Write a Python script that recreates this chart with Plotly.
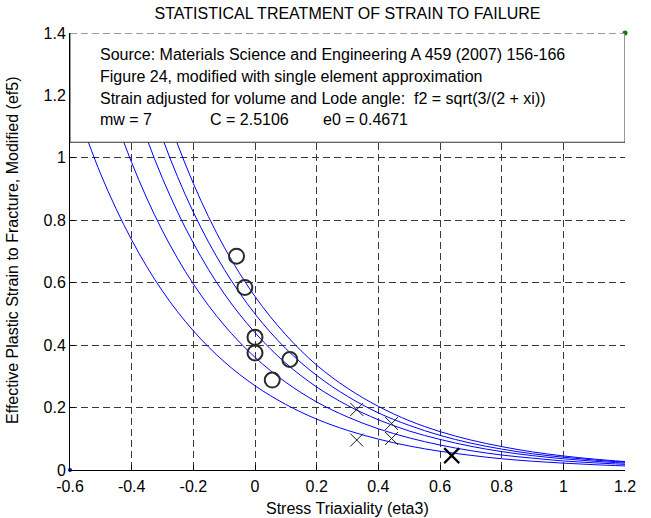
import plotly.graph_objects as go

# ---- data ----
eta_grid = [-0.6, -0.5, -0.4, -0.3, -0.2, -0.1, 0.0, 0.1, 0.2, 0.3, 0.4, 0.5,
            0.6, 0.7, 0.8, 0.9, 1.0, 1.1, 1.2]
curve_1 = [1.217, 0.947, 0.737, 0.573, 0.446, 0.347, 0.270, 0.210, 0.163, 0.127,
           0.099, 0.077, 0.060, 0.047, 0.036, 0.028, 0.022, 0.017, 0.013]
curve_2 = [1.628, 1.266, 0.985, 0.766, 0.596, 0.464, 0.361, 0.281, 0.218, 0.170,
           0.132, 0.103, 0.080, 0.062, 0.048, 0.038, 0.029, 0.023, 0.018]
curve_3 = [1.984, 1.544, 1.201, 0.934, 0.727, 0.565, 0.440, 0.342, 0.266, 0.207,
           0.161, 0.125, 0.098, 0.076, 0.059, 0.046, 0.036, 0.028, 0.022]
curve_4 = [2.255, 1.754, 1.365, 1.062, 0.826, 0.643, 0.500, 0.389, 0.303, 0.236,
           0.183, 0.143, 0.111, 0.086, 0.067, 0.052, 0.041, 0.032, 0.025]
curve_5 = [2.507, 1.950, 1.517, 1.180, 0.918, 0.714, 0.556, 0.433, 0.336, 0.262,
           0.204, 0.158, 0.123, 0.096, 0.075, 0.058, 0.045, 0.035, 0.027]
curves = [curve_1, curve_2, curve_3, curve_4, curve_5]

circle_x = [-0.060, -0.033, 0.0, 0.0, 0.113, 0.056]
circle_y = [0.685, 0.585, 0.425, 0.375, 0.354, 0.288]

cross_x = [0.33, 0.33, 0.443, 0.443]
cross_y = [0.194, 0.096, 0.149, 0.101]
big_cross_x = [0.638]
big_cross_y = [0.046]

corner_green_x = [1.2]
corner_green_y = [1.4]
corner_blue_x = [-0.6]
corner_blue_y = [0.0]

x_ticks = [-0.6, -0.4, -0.2, 0, 0.2, 0.4, 0.6, 0.8, 1, 1.2]
x_tick_text = ["-0.6", "-0.4", "-0.2", "0", "0.2", "0.4", "0.6", "0.8", "1", "1.2"]
y_ticks = [0, 0.2, 0.4, 0.6, 0.8, 1, 1.2, 1.4]
y_tick_text = ["0", "0.2", "0.4", "0.6", "0.8", "1", "1.2", "1.4"]

box_bottom = 1.05
box_lines = [
    "Source: Materials Science and Engineering A 459 (2007) 156-166",
    "Figure 24, modified with single element approximation",
    "Strain adjusted for volume and Lode angle:  f2 = sqrt(3/(2 + xi))",
]
param_texts = ["mw = 7", "C = 2.5106", "e0 = 0.4671"]

title_text = "STATISTICAL TREATMENT OF STRAIN TO FAILURE"
x_title = "Stress Triaxiality (eta3)"
y_title = "Effective Plastic Strain to Fracture, Modified (ef5)"

FONT = "Liberation Sans, Arial, Helvetica, sans-serif"
FS = 16
GRID = "#3a3a3a"

fig = go.Figure()
for c in curves:
    fig.add_trace(go.Scatter(x=eta_grid, y=c, mode="lines", line_shape="spline",
                             line=dict(color="#0000ff", width=1), showlegend=False,
                             hoverinfo="skip"))

fig.add_trace(go.Scatter(x=circle_x, y=circle_y, mode="markers", showlegend=False,
                         marker=dict(symbol="circle-open", size=15, color="#2a2a2a",
                                     line=dict(width=2, color="#2a2a2a"))))
fig.add_trace(go.Scatter(x=cross_x, y=cross_y, mode="markers", showlegend=False,
                         marker=dict(symbol="x-thin-open", size=13, color="#1a1a1a",
                                     line=dict(width=1, color="#1a1a1a"))))
fig.add_trace(go.Scatter(x=big_cross_x, y=big_cross_y, mode="markers", showlegend=False,
                         marker=dict(symbol="x-thin-open", size=15, color="#000000",
                                     line=dict(width=2.2, color="#000000"))))
fig.add_trace(go.Scatter(x=corner_blue_x, y=corner_blue_y, mode="markers", showlegend=False,
                         cliponaxis=False,
                         marker=dict(symbol="circle", size=4, color="#0000ff")))

x0, x1 = x_ticks[0], x_ticks[-1]
y_top = y_ticks[-1]

# white text box covering the top of the axes (no top border: dashed grid line there)
fig.add_shape(type="path", xref="x", yref="y", layer="above",
              path=f"M {x0},{y_top} L {x0},{box_bottom} L {x1},{box_bottom} L {x1},{y_top}",
              fillcolor="white", line=dict(color="#333333", width=1))
fig.add_shape(type="line", xref="x", yref="y", layer="above",
              x0=x0, x1=x1, y0=y_top, y1=y_top,
              line=dict(color=GRID, width=1, dash="7px,4px"))

fig.add_trace(go.Scatter(x=corner_green_x, y=corner_green_y, mode="markers", showlegend=False,
                         cliponaxis=False,
                         marker=dict(symbol="circle", size=5, color="#008000")))

# text in the box
line_y = [0.951, 0.900, 0.851]
for t, yy in zip(box_lines, line_y):
    fig.add_annotation(text=t, xref="paper", yref="paper", x=0.0505, y=yy,
                       xanchor="left", yanchor="middle", showarrow=False,
                       font=dict(family=FONT, size=FS, color="black"))
for t, xx in zip(param_texts, [0.0505, 0.2486, 0.452]):
    fig.add_annotation(text=t, xref="paper", yref="paper", x=xx, y=0.803,
                       xanchor="left", yanchor="middle", showarrow=False,
                       font=dict(family=FONT, size=FS, color="black"))

# axis titles
fig.add_annotation(text=x_title, xref="paper", yref="paper", x=0.5, y=-0.087,
                   xanchor="center", yanchor="middle", showarrow=False,
                   font=dict(family=FONT, size=FS, color="black"))
fig.add_annotation(text=y_title, xref="paper", yref="paper", x=-0.105, y=0.503,
                   xanchor="center", yanchor="middle", showarrow=False, textangle=-90,
                   font=dict(family=FONT, size=FS, color="black"))

fig.update_layout(
    width=651, height=518,
    margin=dict(l=70, r=26, t=33, b=48),
    paper_bgcolor="white", plot_bgcolor="white",
    font=dict(family=FONT, size=FS, color="black"),
    title=dict(text=title_text, x=0.5, xref="paper", y=1 - 13 / 518, yref="container",
               xanchor="center", yanchor="middle",
               font=dict(family=FONT, size=FS, color="black")),
    showlegend=False,
)
fig.update_xaxes(range=[x0, x1], tickvals=x_ticks, ticktext=x_tick_text,
                 showgrid=True, gridcolor=GRID, griddash="7px,4px", gridwidth=1,
                 showline=True, linecolor="black", linewidth=1,
                 ticks="inside", ticklen=5, tickcolor="black", ticklabelstandoff=2,
                 zeroline=False, tickfont=dict(family=FONT, size=FS, color="black"))
fig.update_yaxes(range=[0, y_top], tickvals=y_ticks, ticktext=y_tick_text,
                 showgrid=True, gridcolor=GRID, griddash="7px,4px", gridwidth=1,
                 showline=True, linecolor="black", linewidth=1,
                 ticks="inside", ticklen=5, tickcolor="black",
                 zeroline=False, tickfont=dict(family=FONT, size=FS, color="black"))

fig.write_html("out.html", config={"displayModeBar": False},
               post_script="document.body.style.margin='0';document.body.style.overflow='hidden';")
